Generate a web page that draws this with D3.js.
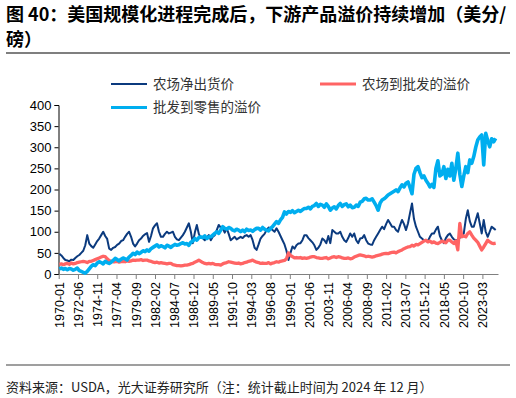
<!DOCTYPE html>
<html lang="zh-CN">
<head>
<meta charset="UTF-8">
<title>图 40</title>
<script src="https://d3js.org/d3.v7.min.js"></script>
<style>
  * { margin: 0; padding: 0; }
  body { background: #fff; }
  svg text { font-family: "Noto Sans CJK SC", sans-serif; }
  .axis text { font-family: "Liberation Sans", Arial, sans-serif; }
</style>
</head>
<body>
<script>
// quarterly readings, 1970Q1 .. 2024Q4, cents per pound
var startYear = 1970;
var endYear = 2024;

var tickLabels = ["1970-01", "1972-06", "1974-11", "1977-04", "1979-09", "1982-02",
  "1984-07", "1986-12", "1989-05", "1991-10", "1994-03", "1996-08", "1999-01",
  "2001-06", "2003-11", "2006-04", "2008-09", "2011-02", "2013-07", "2015-12",
  "2018-05", "2020-10", "2023-03"];

var yTicks = [0, 50, 100, 150, 200, 250, 300, 350, 400];

// 农场净出货价
var farmNet = [
  48, 44, 38, 33,  32, 30, 34, 33,  38, 42, 45, 50,  55, 68, 92, 72,  66, 62, 70, 78,
  84, 92, 100, 90,  83, 60, 57, 62,  64, 69, 72, 78,  80, 88, 95, 100,  88, 72, 65, 72,
  80, 84, 90, 94,  97, 76, 90, 108,  115, 120, 100, 88,  88, 95, 100, 96,  98, 100, 88, 82,
  80, 86, 92, 100,  110, 120, 100, 73,  98, 116, 95, 85,  85, 80, 86, 92,  80, 88, 92, 104,
  116, 110, 108, 98,  108, 95, 80, 84,  88, 82, 85, 88,  85, 90, 92, 88,  92, 80, 62, 57,
  70, 84, 90, 95,  104, 110, 108, 104,  100, 108, 100, 90,  80, 70, 55, 33,  50, 65, 60, 68,
  72, 73, 80, 92,  92, 85, 80, 75,  68, 57, 62, 70,  84, 80, 73, 90,  73, 104, 100, 96,
  96, 100, 88, 80,  76, 85, 96, 88,  96, 80, 73, 84,  85, 92, 80, 72,  70, 69, 80, 88,
  96, 104, 112, 106,  118, 128, 120, 112,  112, 104, 100, 115,  128, 118, 104, 120,  144, 167, 130, 112,
  100, 88, 84, 80,  80, 78, 88, 96,  96, 105, 112, 90,  80, 73, 85, 92,  96, 88, 82, 80,
  80, 86, 90, 96,  130, 151, 125, 112,  112, 128, 144, 120,  96, 128, 100, 88,  100, 112, 108, 104
];

// 农场到批发的溢价
var farmToWholesale = [
  23, 24, 22, 24,  25, 23, 26, 24,  25, 27, 28, 29,  30, 29, 27, 30,  30, 32, 34, 36,
  38, 40, 42, 41,  36, 32, 30, 29,  29, 30, 28, 29,  30, 29, 31, 30,  31, 33, 32, 33,
  33, 34, 32, 33,  33, 31, 30, 28,  27, 28, 26, 27,  26, 25, 24, 25,  25, 22, 21, 20,
  20, 19, 20, 21,  21, 22, 24, 25,  28, 30, 33, 30,  27, 25, 24, 25,  24, 25, 23, 22,
  22, 21, 24, 26,  27, 29, 28, 27,  26, 25, 26, 24,  25, 27, 28, 30,  31, 33, 30, 28,
  27, 25, 26, 25,  25, 27, 24, 26,  27, 29, 28, 30,  31, 32, 36, 50,  44, 41, 38, 39,
  38, 39, 37, 38,  37, 38, 40, 41,  41, 39, 38, 37,  37, 38, 39, 36,  38, 40, 41, 39,
  41, 40, 38, 37,  37, 38, 36, 37,  40, 42, 44, 45,  44, 43, 41, 42,  41, 40, 41, 43,
  44, 45, 47, 48,  49, 48, 50, 51,  52, 50, 53, 55,  57, 60, 62, 64,  65, 68, 66, 70,
  69, 72, 75, 78,  80, 76, 78, 74,  76, 73, 72, 75,  78, 76, 74, 80,  80, 76, 72, 78,
  57, 120, 88, 90,  88, 96, 100, 92,  85, 80, 75, 66,  57, 64, 72, 80,  76, 73, 72, 73
];

// 批发到零售的溢价
var wholesaleToRetail = [
  12, 14, 11, 13,  10, 13, 12, 9,  11, 14, 8, 6,  4, 2, 6, 12,  18, 22, 20, 26,
  29, 27, 24, 30,  27, 25, 28, 32,  37, 34, 31, 35,  38, 36, 33, 40,  44, 49, 46, 52,
  48, 51, 55, 53,  57, 54, 60, 63,  66, 69, 64, 67,  65, 62, 68, 66,  63, 67, 70, 68,
  69, 72, 74, 71,  72, 68, 75, 78,  84, 80, 86, 88,  86, 90, 84, 88,  88, 92, 96, 100,
  96, 104, 112, 108,  106, 110, 108, 104,  102, 106, 104, 100,  104, 100, 106, 103,  104, 101, 105, 108,
  108, 104, 110, 106,  104, 102, 108, 112,  118, 124, 120, 128,  134, 147, 142, 148,  146, 150, 145, 148,
  151, 148, 152, 155,  155, 158, 154, 160,  162, 167, 160, 165,  163, 158, 166, 160,  151, 156, 159, 154,
  162, 167, 160, 164,  166, 159, 163, 157,  158, 163, 160, 170,  172, 178, 179, 175,  175, 178, 170, 162,
  151, 168, 175, 178,  182, 187, 190, 193,  196, 199, 195, 204,  211, 206, 215, 218,  205, 190, 236, 250,
  254, 240, 228, 232,  222, 215, 206, 212,  205, 250, 268, 232,  236, 254, 226, 248,  232, 262, 222, 250,
  286, 236, 207, 232,  254, 240, 270, 262,  278, 300, 317, 324,  329, 258, 333, 316,  301, 320, 313, 321
];

var seriesNames = ["农场净出货价", "农场到批发的溢价", "批发到零售的溢价"];
var seriesColors = ["#0b3a7e", "#ff6464", "#00aeef"];

window.onload = function () {
  var width = 516, height = 398;

  // month index of each quarter (middle month), counted from 1970-01
  var quarterMonth = [];
  for (var y = startYear; y <= endYear; y++) {
    for (var q = 0; q < 4; q++) quarterMonth.push((y - startYear) * 12 + q * 3 + 1);
  }
  function monthIndex(label) {
    var p = label.split("-");
    return (+p[0] - startYear) * 12 + (+p[1] - 1);
  }

  var svg = d3.select("body").append("svg")
    .attr("width", width)
    .attr("height", height);

  // title
  var title = svg.append("text")
    .attr("x", 6)
    .attr("font-size", "18px")
    .attr("font-weight", "bold")
    .attr("fill", "#000");
  title.append("tspan").attr("x", 6).attr("y", 21)
    .text("图 40：美国规模化进程完成后，下游产品溢价持续增加（美分/");
  title.append("tspan").attr("x", 6).attr("y", 46)
    .text("磅）");

  svg.append("line")
    .attr("x1", 6).attr("x2", 510).attr("y1", 53).attr("y2", 53)
    .attr("stroke", "#7f7f7f").attr("stroke-width", 2);

  var x = d3.scaleLinear().domain([0, 661.5]).range([58.7, 498]);
  var yScale = d3.scaleLinear().domain([0, 400]).range([274, 105]);

  // y axis
  var yAxis = svg.append("g")
    .attr("class", "axis")
    .attr("transform", "translate(58.5,0)")
    .call(d3.axisLeft(yScale).tickValues(yTicks).tickSize(4).tickSizeOuter(4).tickPadding(3));
  yAxis.selectAll("text").attr("font-size", "13px").attr("fill", "#000");
  yAxis.selectAll("path, line").attr("stroke", "#000");

  // x axis
  var xAxis = svg.append("g")
    .attr("class", "axis")
    .attr("transform", "translate(0,274)")
    .call(d3.axisBottom(x)
      .tickValues(tickLabels.map(monthIndex))
      .tickFormat(function (d, i) { return tickLabels[i]; })
      .tickSize(5).tickSizeOuter(0));
  xAxis.selectAll("path, line").attr("stroke", "#808080");
  xAxis.selectAll("text")
    .attr("font-size", "12.5px")
    .attr("fill", "#000")
    .attr("text-anchor", "end")
    .attr("transform", "rotate(-90)")
    .attr("x", -8)
    .attr("y", 0)
    .attr("dy", "0.35em");

  // lines
  var all = [farmNet, farmToWholesale, wholesaleToRetail];
  var widths = [2, 3.3, 3.6];
  var line = d3.line()
    .x(function (d, i) { return x(quarterMonth[i]); })
    .y(function (d) { return yScale(d); });
  all.forEach(function (values, k) {
    svg.append("path")
      .datum(values)
      .attr("fill", "none")
      .attr("stroke", seriesColors[k])
      .attr("stroke-width", widths[k])
      .attr("stroke-linejoin", "round")
      .attr("d", line);
  });

  // legend
  var legendPos = [[111, 84], [320, 84], [111, 107.5]];
  legendPos.forEach(function (p, k) {
    svg.append("line")
      .attr("x1", p[0]).attr("x2", p[0] + 36)
      .attr("y1", p[1]).attr("y2", p[1])
      .attr("stroke", seriesColors[k])
      .attr("stroke-width", k == 0 ? 2 : 3);
    svg.append("text")
      .attr("x", p[0] + 42).attr("y", p[1])
      .attr("dy", "0.35em")
      .attr("font-size", "13.5px")
      .attr("fill", "#333")
      .text(seriesNames[k]);
  });

  // source
  svg.append("line")
    .attr("x1", 6).attr("x2", 510).attr("y1", 365).attr("y2", 365)
    .attr("stroke", "#7f7f7f").attr("stroke-width", 1.5);
  svg.append("text")
    .attr("x", 6).attr("y", 392)
    .attr("font-size", "13px")
    .attr("fill", "#222")
    .text("资料来源：USDA，光大证券研究所（注：统计截止时间为 2024 年 12 月）");
};
</script>
</body>
</html>
